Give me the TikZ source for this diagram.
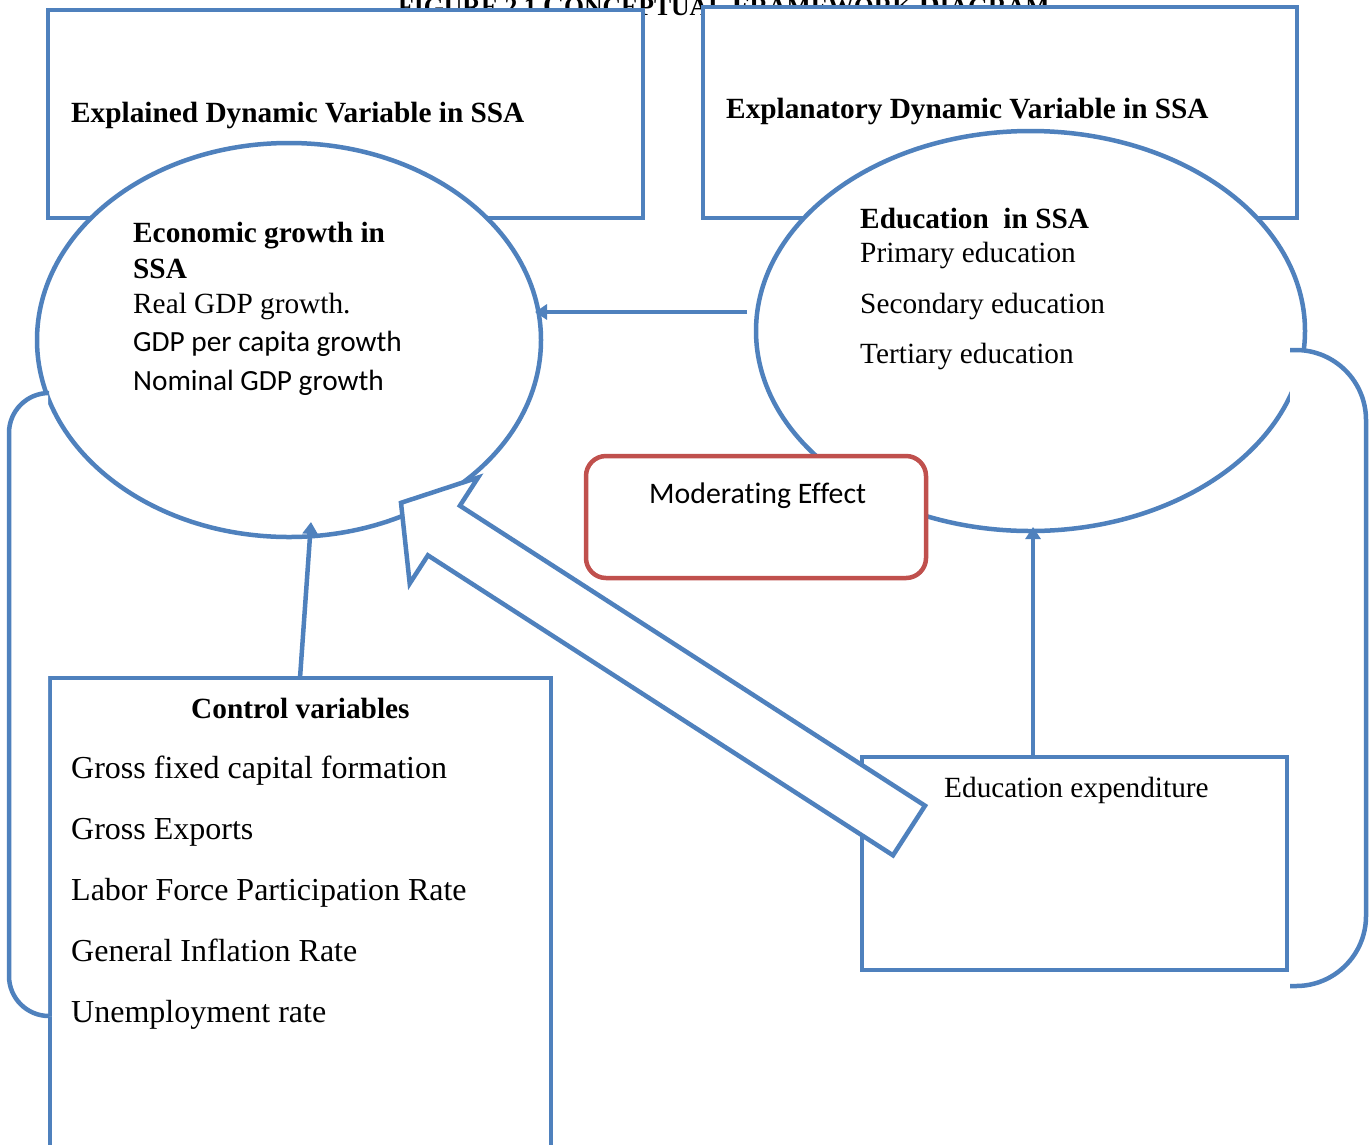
\documentclass[tikz,border=0pt]{standalone}
\usepackage{fontspec}
\setmainfont{Liberation Serif}
\newfontfamily\calfont[Ligatures=NoCommon]{Carlito}
\usetikzlibrary{shapes.geometric,arrows.meta}
\definecolor{ofblue}{HTML}{4F81BD}
\definecolor{ofred}{HTML}{C0504D}
\newcommand\tsmall[1]{{\fontsize{25.7pt}{30pt}\selectfont #1}}
\begin{document}
\begin{tikzpicture}[x=1pt,y=-1pt,
  txt/.style={anchor=base west, inner sep=0pt, font=\fontsize{29.3pt}{35pt}\selectfont},
  bigtxt/.style={anchor=base west, inner sep=0pt, font=\fontsize{32pt}{38pt}\selectfont},
  ctxt/.style={txt, font=\fontsize{29.3pt}{35pt}\selectfont\calfont},
  btxt/.style={txt, font=\fontsize{29.3pt}{35pt}\selectfont\bfseries},
  boxb/.style={draw=ofblue, line width=4.5pt, fill=white, inner sep=0pt, rectangle},
  ellb/.style={draw=ofblue, line width=4.5pt, fill=white, inner sep=0pt, ellipse},
  conn/.style={draw=ofblue, line width=4.5pt, -{Triangle[length=12pt,width=15pt]}},
  brk/.style={draw=ofblue, line width=4.5pt}
]
\useasboundingbox (0,0) rectangle (1372,1144);
\fill[white] (0,0) rectangle (1372,1144);

% title (mostly hidden)
\node[btxt, font=\fontsize{29pt}{35pt}\selectfont\bfseries] (title) at (398,15)
  {\tsmall{FIGURE 2.1 }C\tsmall{ONCEPTUAL }F\tsmall{RAMEWORK }D\tsmall{IAGRAM}};

% top rectangles
\node[boxb, minimum width=595pt, minimum height=208pt] (explained) at (345.5,114) {};
\node[boxb, minimum width=594pt, minimum height=211pt] (explanatory) at (1000,112.5) {};
\node[btxt] (t1) at (71,122) {Explained Dynamic Variable in SSA};
\node[btxt] (t2) at (726,118) {Explanatory Dynamic Variable in SSA};

% ellipses
\node[ellb, minimum width=504pt, minimum height=394pt] (growth) at (289,340) {};
\node[ellb, minimum width=549pt, minimum height=400pt] (educ) at (1030.5,331) {};

\node[btxt] (g1) at (133,242) {Economic growth in};
\node[btxt] (g2) at (133,278) {SSA};
\node[txt] (g3) at (133,313) {Real GDP growth.};
\node[ctxt] (g4) at (133,351) {GDP per capita growth};
\node[ctxt] (g5) at (133,390) {Nominal GDP growth};

\node[btxt] (e1) at (860,228) {Education\ \ in SSA};
\node[txt] (e2) at (860,262) {Primary education};
\node[txt] (e3) at (860,313) {Secondary education};
\node[txt] (e4) at (860,363) {Tertiary education};

% moderating effect
\node[draw=ofred, line width=4.5pt, fill=white, rounded corners=20pt, minimum width=340pt, minimum height=122pt, inner sep=0pt] (moder) at (756,517) {};
\node[ctxt, font=\fontsize{29.8pt}{35pt}\selectfont\calfont] (m1) at (649,503) {Moderating Effect};

% control variables
\node[boxb, minimum width=501pt, minimum height=480pt] (control) at (300.5,918) {};
\node[btxt] (c0) at (191,718) {Control variables};
\node[bigtxt] (c1) at (71,778) {Gross fixed capital formation};
\node[bigtxt] (c2) at (71,839) {Gross Exports};
\node[bigtxt] (c3) at (71,900) {Labor Force Participation Rate};
\node[bigtxt] (c4) at (71,961) {General Inflation Rate};
\node[bigtxt] (c5) at (71,1022) {Unemployment rate};

% education expenditure
\node[boxb, minimum width=425pt, minimum height=213pt] (expend) at (1074.5,863.5) {};
\node[txt] (x1) at (944,797) {Education expenditure};

% brackets
\fill[white] (48,393) -- (44,393) [rounded corners=40pt] -- (9,393) -- (9,1016) -- (44,1016) [sharp corners] -- (48,1016) -- cycle;
\draw[brk, rounded corners=40pt] (48,393) -- (9,393) -- (9,1016) -- (48,1016);
\fill[white] (1290,350) -- (1296,350) [rounded corners=70pt] -- (1366,350) -- (1366,986) -- (1296,986) [sharp corners] -- (1290,986) -- cycle;
\draw[brk, rounded corners=70pt] (1290,350) -- (1366,350) -- (1366,986) -- (1290,986);

% connectors
\coordinate (a1s) at (747,312);
\coordinate (a1e) at (535,312);
\draw[conn] (a1s) -- (a1e);
\coordinate (a2s) at (300,678);
\coordinate (a2e) at (311,522);
\draw[conn] (a2s) -- (a2e);
\coordinate (a3s) at (1033,757);
\coordinate (a3e) at (1033,527);
\draw[conn] (a3s) -- (a3e);

% block arrow
\draw[draw=ofblue, line width=4.5pt, fill=white, line join=miter]
  (925,805.7) -- (459.9,505.7) -- (478.1,477.5) -- (401,502.8) -- (409.7,583.5) -- (427.9,555.3) -- (893,855.3) -- cycle;
\end{tikzpicture}
\end{document}
